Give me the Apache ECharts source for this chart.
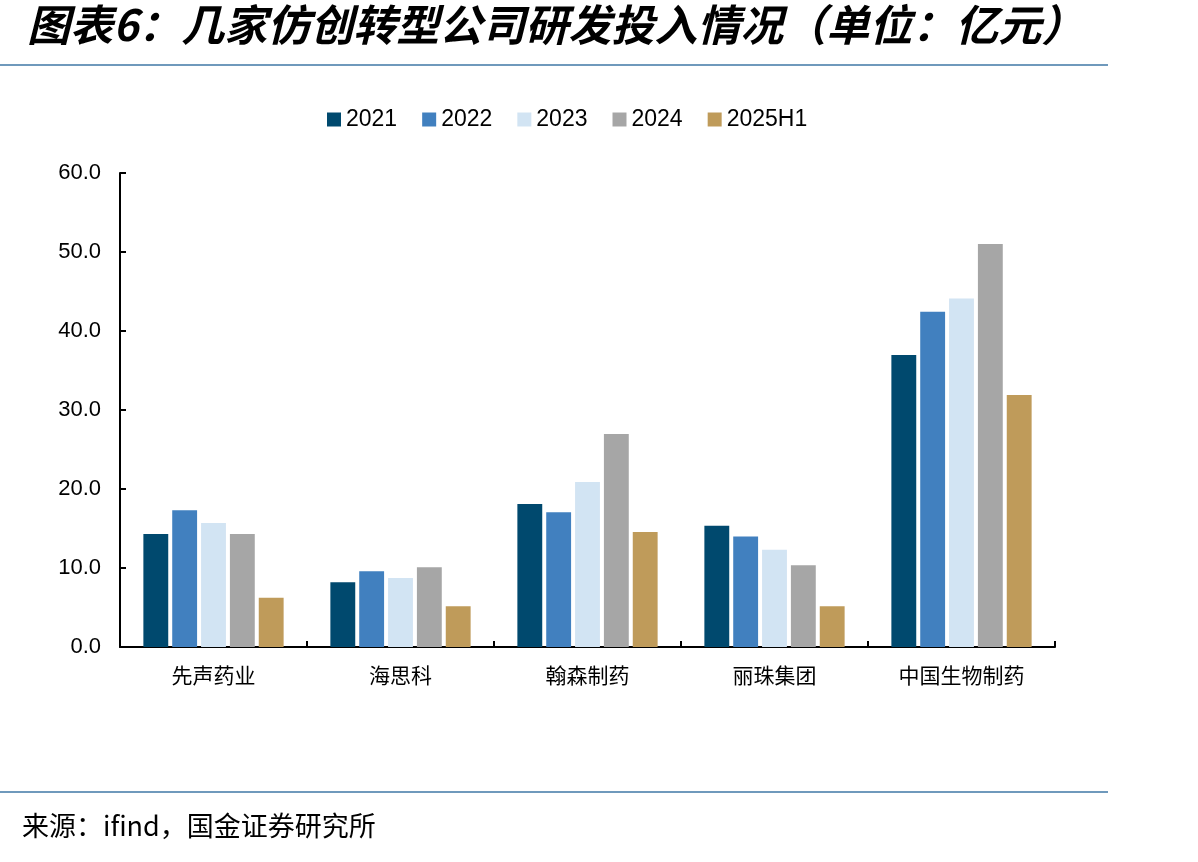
<!DOCTYPE html>
<html>
<head>
<meta charset="utf-8">
<script src="https://cdn.jsdelivr.net/npm/echarts@6/dist/echarts.min.js"></script>
<style>
html,body{margin:0;padding:0;background:#fff;}
#chart{width:1198px;height:862px;}
</style>
</head>
<body>
<div id="chart"></div>
<script>
const categories = ['先声药业', '海思科', '翰森制药', '丽珠集团', '中国生物制药'];
const seriesNames = ['2021', '2022', '2023', '2024', '2025H1'];
const v2021 = [14.3, 8.2, 18.1, 15.35, 36.95];
const v2022 = [17.3, 9.6, 17.05, 14.0, 42.45];
const v2023 = [15.7, 8.75, 20.9, 12.3, 44.1];
const v2024 = [14.3, 10.1, 26.95, 10.35, 51.0];
const v2025H1 = [6.25, 5.15, 14.55, 5.15, 31.9];
const yTicks = [0, 10, 20, 30, 40, 50, 60];
const colors = ['#00496e', '#4180bf', '#d2e4f3', '#a6a6a6', '#bf9b5a'];
const allValues = [v2021, v2022, v2023, v2024, v2025H1];

const chart = echarts.init(document.getElementById('chart'));
const cjk = '"Noto Sans CJK SC", sans-serif';
chart.setOption({
  animation: false,
  backgroundColor: '#fff',
  color: colors,
  graphic: [
    { type: 'text', left: 27, top: 3, style: { text: '图表6：几家仿创转型公司研发投入情况（单位：亿元）', font: 'italic bold 43px "Noto Sans CJK SC"', fill: '#000' } },
    { type: 'line', shape: { x1: 0, y1: 65, x2: 1108, y2: 65 }, style: { stroke: '#3f77a6', lineWidth: 1.5 } },
    { type: 'line', shape: { x1: 0, y1: 792, x2: 1108, y2: 792 }, style: { stroke: '#3f77a6', lineWidth: 1.5 } },
    { type: 'text', left: 22, top: 812, style: { text: '来源：ifind，国金证券研究所', font: '27px "Noto Sans CJK SC"', fill: '#000' } }
  ],
  legend: {
    top: 103,
    left: 322,
    itemWidth: 14,
    itemHeight: 14,
    itemGap: 25,
    itemTextGap: 4,
    icon: 'rect',
    textStyle: { fontSize: 23, color: '#000', fontFamily: '"Liberation Sans", Arial, sans-serif' },
    data: seriesNames
  },
  grid: { left: 120, right: 143, top: 173, bottom: 215, containLabel: false },
  xAxis: {
    type: 'category',
    data: categories,
    axisLine: { lineStyle: { color: '#000', width: 2 } },
    axisTick: { show: true, inside: true, length: 6, lineStyle: { color: '#000', width: 2 } },
    axisLabel: { fontSize: 21, color: '#000', fontFamily: cjk, margin: 18 }
  },
  yAxis: {
    type: 'value',
    min: 0, max: 60, interval: 10,
    splitLine: { show: false },
    axisLine: { show: true, lineStyle: { color: '#000', width: 2 } },
    axisTick: { show: true, inside: true, length: 6, lineStyle: { color: '#000', width: 2 } },
    axisLabel: { fontSize: 22, color: '#000', fontFamily: '"Liberation Sans", Arial, sans-serif', margin: 19, formatter: v => v.toFixed(1) }
  },
  series: seriesNames.map((n, i) => ({
    name: n,
    type: 'bar',
    data: allValues[i],
    barGap: '16%',
    barCategoryGap: '25%',
    itemStyle: { color: colors[i] }
  }))
});
</script>
</body>
</html>
